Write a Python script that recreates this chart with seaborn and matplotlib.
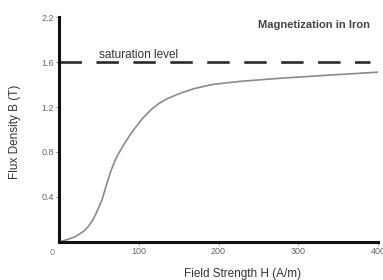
import matplotlib
matplotlib.use('Agg')
import matplotlib.pyplot as plt
import seaborn as sns
import pandas as pd

# B-H magnetization curve
field_h = [0, 10, 20, 30, 36, 42, 47, 54, 60, 65, 70, 75, 80, 88, 95, 105, 116, 126, 136,
           146, 155, 170, 192, 210, 230, 276, 330, 400]
flux_b = [0, 0.02, 0.045, 0.09, 0.13, 0.19, 0.26, 0.375, 0.52, 0.63, 0.72, 0.79, 0.85, 0.94,
          1.01, 1.10, 1.18, 1.235, 1.275, 1.305, 1.33, 1.365, 1.40, 1.415, 1.43, 1.455, 1.48,
          1.51]
saturation = 1.6
x_ticks = [100, 200, 300, 400]
y_ticks = [0.4, 0.8, 1.2, 1.6, 2.0]
# the top tick is printed as "2.2" in the source figure
y_tick_labels = ["0.4", "0.8", "1.2", "1.6", "2.2"]

df = pd.DataFrame({"H": field_h, "B": flux_b})

sns.set_style("ticks")
plt.rcParams['font.family'] = ['Liberation Sans', 'DejaVu Sans']

fig = plt.figure(figsize=(3.83, 2.80), dpi=100)
ax = fig.add_axes([0.154, 0.136, 0.833, 0.803])

sns.lineplot(data=df, x="H", y="B", ax=ax, color="#8a8a8a", linewidth=1.2)
ax.plot([0, 390], [saturation, saturation], color="#2a2a2a", linewidth=1.9,
        dashes=(8.5, 5.5))

ax.set_xlim(0, 400)
ax.set_ylim(0, 2.0)
ax.set_xticks(x_ticks)
ax.set_yticks(y_ticks)
ax.set_xticklabels([str(t) for t in x_ticks])
ax.set_yticklabels(y_tick_labels)
ax.tick_params(labelsize=6.5, colors="#666666", length=2, width=0.6, pad=1.5)

sns.despine(ax=ax)
for side in ["left", "bottom"]:
    ax.spines[side].set_linewidth(2.2)
    ax.spines[side].set_color("#111111")

ax.text(-6, -0.05, "0", fontsize=6.5, color="#888888", ha="right", va="top")
ax.text(100, 1.66, "saturation level", fontsize=8.5, color="#333333", ha="center", va="center")
ax.text(390, 1.93, "Magnetization in Iron", fontsize=8, fontweight="bold", color="#444444",
        ha="right", va="center")

ax.set_xlabel("Field Strength H (A/m)", fontsize=8.5, color="#333333")
ax.set_ylabel("Flux Density B (T)", fontsize=8.5, color="#333333")
ax.xaxis.set_label_coords(0.574, -0.115)
ax.yaxis.set_label_coords(-0.118, 0.49)

fig.savefig("out.png", dpi=100)
